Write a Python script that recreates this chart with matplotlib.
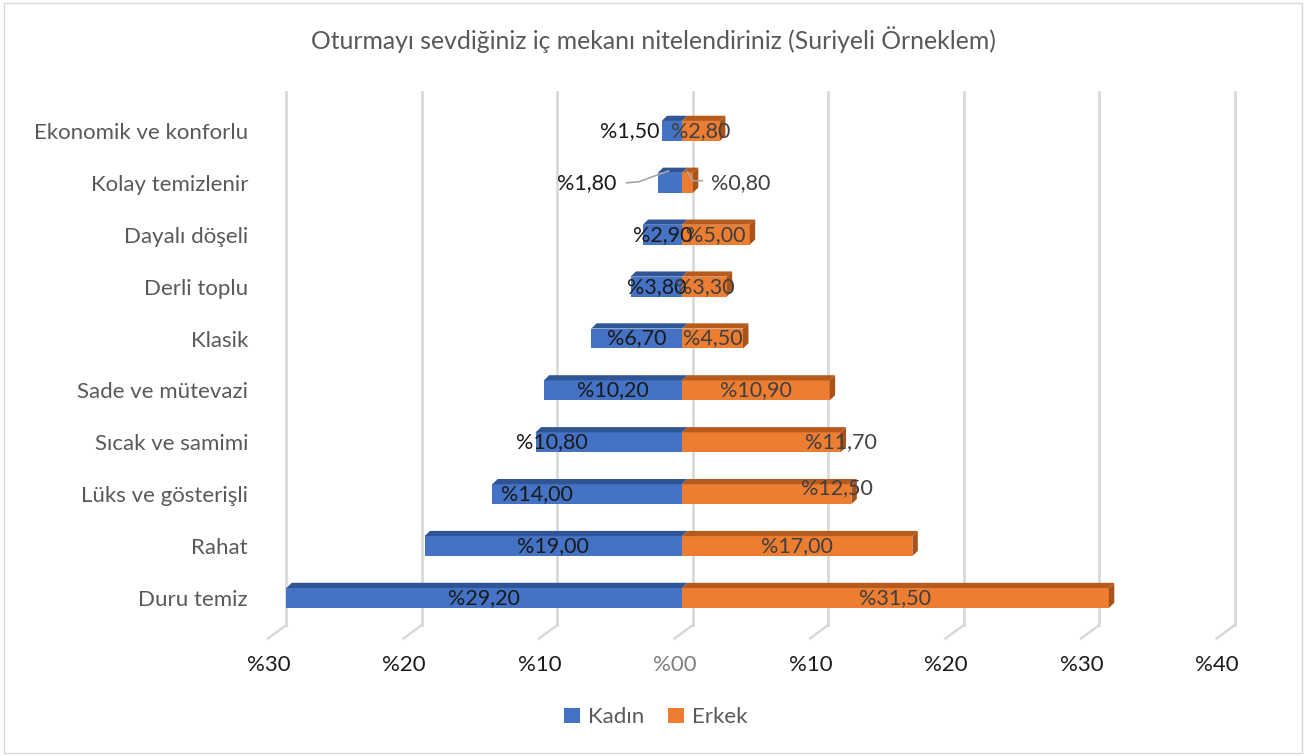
import matplotlib
matplotlib.use("Agg")
import matplotlib.pyplot as plt
import matplotlib.patches as patches
from matplotlib.transforms import ScaledTranslation

plt.rcParams['font.family'] = ['Lato', 'DejaVu Sans']

########
# veri
########
categories = ["Duru temiz", "Rahat", "Lüks ve gösterişli", "Sıcak ve samimi",
              "Sade ve mütevazi", "Klasik", "Derli toplu", "Dayalı döşeli",
              "Kolay temizlenir", "Ekonomik ve konforlu"]
kadin = [29.2, 19.0, 14.0, 10.8, 10.2, 6.7, 3.8, 2.9, 1.8, 1.5]
erkek = [31.5, 17.0, 12.5, 11.7, 10.9, 4.5, 3.3, 5.0, 0.8, 2.8]
xticks = [-30, -20, -10, 0, 10, 20, 30, 40]
xtick_labels = ["%30", "%20", "%10", "%00", "%10", "%20", "%30", "%40"]
title = "Oturmayı sevdiğiniz iç mekanı nitelendiriniz (Suriyeli Örneklem)"

# elle taşınmış etiketler (x, dy)
kadin_lbl_pos = {9: (-3.85, 0), 8: (-7.0, 0), 3: (-9.6, 0), 2: (-10.7, 0)}
erkek_lbl_pos = {8: (4.3, 0), 3: (11.7, 0), 2: (11.4, 0.12)}

blue, blue_top = '#4472C4', '#2F5597'
orange, orange_top, orange_side = '#ED7D31', '#B65A1E', '#A9531B'

h = 0.385     # bar kalınlığı
dx, dy = 0.4, 0.1  # 3D derinlik
gx = 0.8      # arka düzlem kayması

fig = plt.figure(figsize=(13.06, 7.56), dpi=100)
ax = fig.add_axes([0.2006, 0.1541, 0.7522, 0.7242])

# çerçeve
fig.patches.append(patches.Rectangle((0.003, 0.004), 0.994, 0.992, transform=fig.transFigure,
                                     fill=False, edgecolor='#D9D9D9', linewidth=1))

ypos = list(range(len(categories)))

# grid çizgileri (arka düzlem)
for t in xticks:
    ax.plot([t + gx, t + gx], [-0.52, 9.75], color='#D9D9D9', lw=2, zorder=0, clip_on=False)
    ax.plot([t + gx, t - 0.55], [-0.52, -0.78], color='#D9D9D9', lw=1.8, zorder=0, clip_on=False)

# barlar
ax.barh(ypos, [-v for v in kadin], height=h, color=blue, zorder=2, label='Kadın')
ax.barh(ypos, erkek, height=h, color=orange, zorder=2, label='Erkek')

for y, vk, ve in zip(ypos, kadin, erkek):
    t = y + h / 2
    # üst yüzler
    ax.add_patch(patches.Polygon([(-vk, t), (0, t), (dx, t + dy), (-vk + dx, t + dy)],
                                 closed=True, facecolor=blue_top, edgecolor='none', zorder=2))
    ax.add_patch(patches.Polygon([(0, t), (ve, t), (ve + dx, t + dy), (dx, t + dy)],
                                 closed=True, facecolor=orange_top, edgecolor='none', zorder=2))
    # yan yüz
    ax.add_patch(patches.Polygon([(ve, y - h / 2), (ve, t), (ve + dx, t + dy), (ve + dx, y - h / 2 + dy)],
                                 closed=True, facecolor=orange_side, edgecolor='none', zorder=2))

# veri etiketleri
def fmt(v):
    return "%" + f"{v:.2f}".replace(".", ",")

for i, (vk, ve) in enumerate(zip(kadin, erkek)):
    xk, dyk = kadin_lbl_pos.get(i, (-vk / 2, 0))
    ax.text(xk, i + dyk, fmt(vk), ha='center', va='center', fontsize=15.5, color='#1A1A1A', zorder=4)
    xe, dye = erkek_lbl_pos.get(i, (ve / 2, 0))
    ax.text(xe, i + dye, fmt(ve), ha='center', va='center', fontsize=15.5, color='#404040', zorder=4)

# Kolay temizlenir etiket çizgileri
k = categories.index("Kolay temizlenir")
ax.plot([-4.1, -3.2, -1.0], [k, k + 0.02, k + 0.23], color='#A6A6A6', lw=1.2, zorder=5)
ax.plot([0.4, 0.8, 1.5], [k + 0.21, k + 0.04, k + 0.04], color='#A6A6A6', lw=1.2, zorder=5)

ax.set_xlim(-31, 41.5)
ax.set_ylim(-0.8, 9.75)
ax.set_yticks(ypos)
ax.set_yticklabels(categories, fontsize=16, color='#595959')
ax.set_xticks(xticks)
ax.set_xticklabels(xtick_labels, fontsize=16, color='#1A1A1A')
ax.get_xticklabels()[3].set_color('#7F7F7F')
ax.tick_params(axis='both', length=0)
ax.tick_params(axis='y', pad=10)
ax.tick_params(axis='x', pad=11)
for lbl in ax.get_xticklabels():
    lbl.set_transform(lbl.get_transform() + ScaledTranslation(-7 / 100, 0, fig.dpi_scale_trans))
for s in ax.spines.values():
    s.set_visible(False)

fig.text(0.5, 0.947, title, ha='center', va='center', fontsize=17.8, color='#595959')

fig.legend(loc='center', bbox_to_anchor=(0.502, 0.051), ncol=2, frameon=False,
           fontsize=16, handlelength=0.7, handleheight=0.7, handletextpad=0.35,
           columnspacing=1.1, labelcolor='#595959')

fig.savefig('out.png', dpi=100)
